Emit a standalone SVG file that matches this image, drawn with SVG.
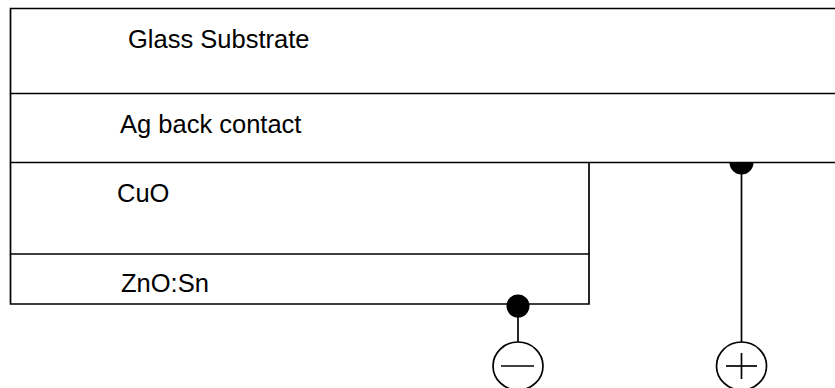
<svg xmlns="http://www.w3.org/2000/svg" width="835" height="388" viewBox="0 0 835 388">
<style>
.ln{fill:none;stroke:#000;stroke-width:1.7}
.lbl{font-family:"Liberation Sans",Arial,sans-serif;font-size:25.5px;fill:#000}
.dot{fill:#000}
.term{fill:#fff;stroke:#000;stroke-width:1.7}
</style>
<rect width="835" height="388" fill="#fff"/>
<g id="glass">
<path class="ln" d="M836,8.5 H10.5 V93.5 H836"/>
<text class="lbl" x="128" y="48">Glass Substrate</text>
</g>
<g id="ag">
<path class="ln" d="M10.5,93.5 V162.5 H836"/>
<text class="lbl" x="120" y="133">Ag back contact</text>
</g>
<g id="cuo">
<path class="ln" d="M10.5,162.5 V254 H589 V162.5"/>
<text class="lbl" x="117" y="202">CuO</text>
</g>
<g id="zno">
<path class="ln" d="M10.5,254 V304 H589 V254"/>
<text class="lbl" x="121" y="292">ZnO:Sn</text>
</g>
<g id="connectors">
<line class="ln" x1="518" y1="306" x2="518" y2="342"/>
<line class="ln" x1="741.5" y1="163" x2="741.5" y2="342"/>
</g>
<g id="neg-terminal">
<circle class="dot" cx="518" cy="306" r="11.5"/>
<ellipse class="term" cx="518" cy="366" rx="25" ry="24"/>
<line class="ln" x1="501" y1="366" x2="534" y2="366"/>
</g>
<g id="pos-terminal">
<path class="dot" d="M729.5,162.5 A12,12 0 0 0 753.5,162.5 Z"/>
<ellipse class="term" cx="741.5" cy="366" rx="25" ry="24"/>
<line class="ln" x1="726" y1="366" x2="757" y2="366"/>
<line class="ln" x1="741.5" y1="353" x2="741.5" y2="379"/>
</g>
</svg>
